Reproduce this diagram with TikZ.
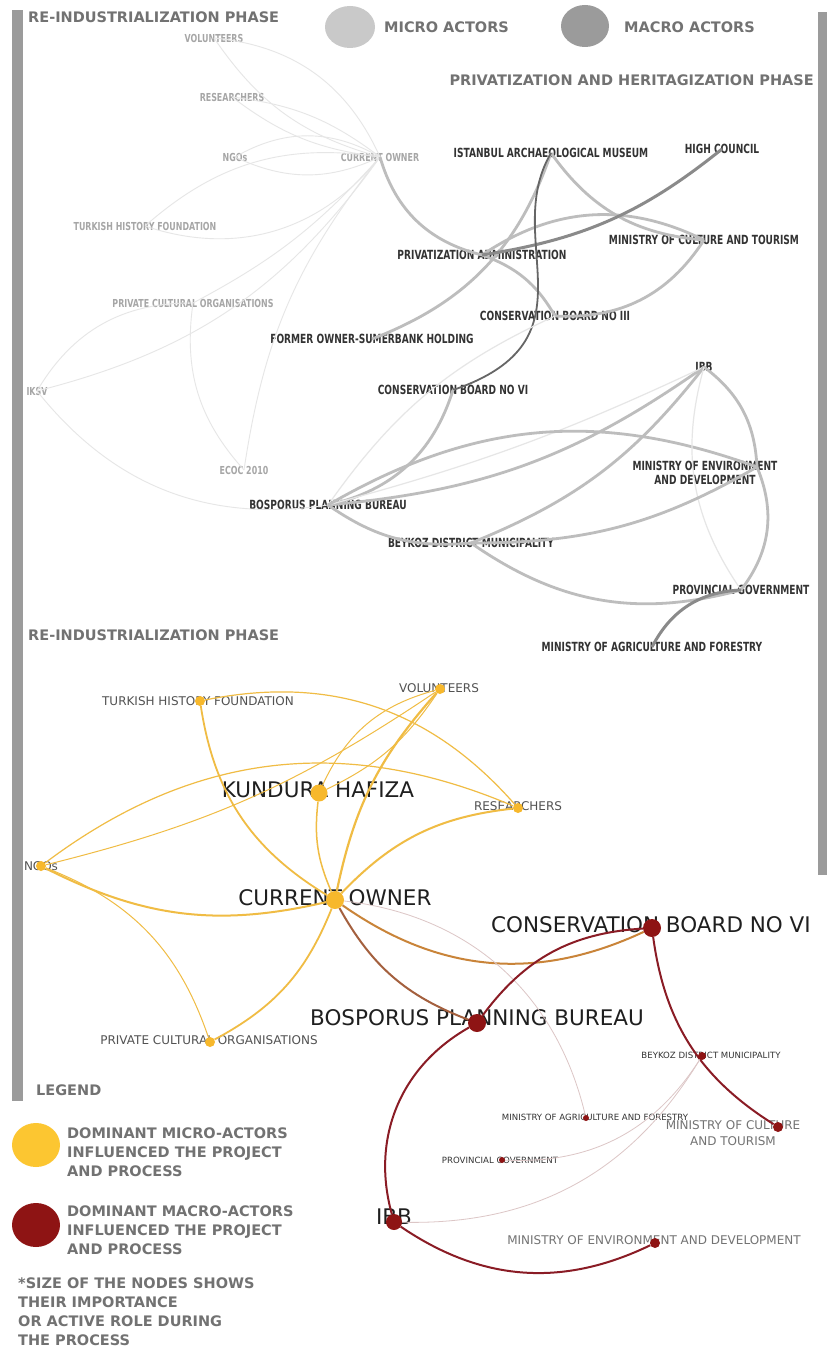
\documentclass[tikz,border=0pt]{standalone}
\usepackage{fontspec}
\setmainfont{DejaVu Sans}
\newfontfamily\narrowfont[FakeStretch=0.72]{DejaVu Sans}

\pgfdeclarelayer{edges}
\pgfdeclarelayer{dots}
\pgfsetlayers{main,edges,dots}

\definecolor{bargray}{HTML}{9B9B9B}
\definecolor{headgray}{HTML}{727272}
\definecolor{microgray}{HTML}{A6A6A6}
\definecolor{macrogray}{HTML}{333333}
\definecolor{microline}{HTML}{E6E6E6}
\definecolor{macroline}{HTML}{BDBDBD}
\definecolor{darkline}{HTML}{8A8A8A}
\definecolor{microfill}{HTML}{C9C9C9}
\definecolor{macrofill}{HTML}{9B9B9B}
\definecolor{actyellow}{HTML}{F7B82C}
\definecolor{legyellow}{HTML}{FCC631}
\definecolor{lineyellow}{HTML}{F0BC44}
\definecolor{lineorange}{HTML}{C98439}
\definecolor{linebrown}{HTML}{A4603E}
\definecolor{actred}{HTML}{8E1414}
\definecolor{linered}{HTML}{8A1C25}
\definecolor{linepink}{HTML}{DCC6C6}

\tikzset{
  head/.style={font=\fontsize{14.5}{19}\selectfont\bfseries, text=headgray, inner sep=0},
  miclbl/.style={font=\narrowfont\fontsize{11}{13}\selectfont\bfseries, text=microgray, inner sep=0},
  maclbl/.style={font=\narrowfont\fontsize{12.6}{13.5}\selectfont\bfseries, text=macrogray, inner sep=0},
  biglbl/.style={font=\fontsize{21.5}{24}\selectfont, text=black!88, inner sep=0},
  midlbl/.style={font=\fontsize{12}{16}\selectfont, text=black!68, inner sep=0},
  tinylbl/.style={font=\fontsize{8.6}{10}\selectfont, text=black!80, inner sep=0},
  mic/.style={microline, line width=0.9pt},
  mac/.style={macroline, line width=2.8pt},
  macthin/.style={microline, line width=1.2pt},
  macdark/.style={darkline, line width=3pt},
  macdeep/.style={black!60, line width=1.8pt},
  ydot/.style={circle, fill=actyellow, inner sep=0, minimum size=#1},
  rdot/.style={circle, fill=actred, inner sep=0, minimum size=#1},
  yedge/.style={lineyellow, line width=#1},
  yedge/.default=1.2pt,
  oedge/.style={lineorange, line width=2pt},
  bedge/.style={linebrown, line width=2pt},
  redge/.style={linered, line width=2pt},
  pedge/.style={linepink, line width=0.8pt}
}

\begin{document}
\begin{tikzpicture}[x=1pt,y=-1pt]
\useasboundingbox (0,0) rectangle (827,1348);
\fill[white] (0,0) rectangle (827,1348);

% side bars and headers
\fill[bargray] (12,10) rectangle (23,1101);
\fill[bargray] (818,12) rectangle (827,875);
\node[head, anchor=west] (phase1) at (28,17) {RE-INDUSTRIALIZATION PHASE};
\fill[microfill] (350,27) ellipse (25 and 21);
\node[head, anchor=west] (microkey) at (384,27) {MICRO ACTORS};
\fill[macrofill] (585,26) ellipse (24 and 21);
\node[head, anchor=west] (macrokey) at (624,27) {MACRO ACTORS};
\node[head, anchor=east] (phase2) at (814,80) {PRIVATIZATION AND HERITAGIZATION PHASE};
\node[head, anchor=west] (phase3) at (28,635) {RE-INDUSTRIALIZATION PHASE};

% upper network
\node[miclbl] (tvol) at (214,38) {VOLUNTEERS};
\node[miclbl] (tres) at (232,97) {RESEARCHERS};
\node[miclbl] (tngo) at (235,157) {NGOs};
\node[miclbl] (tco) at (380,157) {CURRENT OWNER};
\node[miclbl] (tthf) at (145,226) {TURKISH HISTORY FOUNDATION};
\node[miclbl] (tpco) at (193,303) {PRIVATE CULTURAL ORGANISATIONS};
\node[miclbl] (tiksv) at (37,391) {IKSV};
\node[miclbl] (tecoc) at (244,470) {ECOC 2010};

\node[maclbl] (tiam) at (551,153) {ISTANBUL ARCHAEOLOGICAL MUSEUM};
\node[maclbl] (thc) at (722,149) {HIGH COUNCIL};
\node[maclbl] (tmct) at (704,240) {MINISTRY OF CULTURE AND TOURISM};
\node[maclbl] (tpa) at (482,255) {PRIVATIZATION ADMINISTRATION};
\node[maclbl] (tcb3) at (555,316) {CONSERVATION BOARD NO III};
\node[maclbl] (tfo) at (372,339) {FORMER OWNER-SUMERBANK HOLDING};
\node[maclbl] (tcb6) at (453,390) {CONSERVATION BOARD NO VI};
\node[maclbl] (tibb) at (704,367) {IBB};
\node[maclbl, align=center] (tmedt) at (705,473) {MINISTRY OF ENVIRONMENT\\AND DEVELOPMENT};
\coordinate (tmed) at (757,467);
\node[maclbl] (tbpb) at (328,505) {BOSPORUS PLANNING BUREAU};
\node[maclbl] (tbdm) at (471,543) {BEYKOZ DISTRICT MUNICIPALITY};
\node[maclbl] (tpg) at (741,590) {PROVINCIAL GOVERNMENT};
\node[maclbl] (tmaf) at (652,647) {MINISTRY OF AGRICULTURE AND FORESTRY};

\begin{pgfonlayer}{edges}
\draw[mic] (tvol.center) to[bend left=30] (tco.center);
\draw[mic] (tvol.center) to[bend right=20] (tco.center);
\draw[mic] (tres.center) to[bend left=15] (tco.center);
\draw[mic] (tres.center) to[bend right=15] (tco.center);
\draw[mic] (tngo.center) to[bend left=30] (tco.center);
\draw[mic] (tngo.center) to[bend right=25] (tco.center);
\draw[mic] (tthf.center) to[bend left=25] (tco.center);
\draw[mic] (tthf.center) to[bend right=35] (tco.center);
\draw[mic] (tpco.center) to[bend right=10] (tco.center);
\draw[mic] (tiksv.center) to[bend right=20] (tco.center);
\draw[mic] (tiksv.center) to[bend left=30] (tpco.center);
\draw[mic] (tiksv.center) to[bend right=30] (tbpb.center);
\draw[mic] (tecoc.center) to[bend left=25] (tpco.center);
\draw[mic] (tecoc.center) to[bend left=15] (tco.center);

\draw[mac] (tco.center) to[bend right=30] (tpa.center);
\draw[mac] (tiam.center) to[bend left=25] (tfo.center);
\draw[mac] (tiam.center) to[bend right=25] (tmct.center);
\draw[mac] (tpa.center) to[bend left=30] (tmct.center);
\draw[mac] (tmct.center) to[bend left=30] (tcb3.center);
\draw[mac] (tpa.center) to[bend left=20] (tcb3.center);
\draw[macdark] (thc.center) to[bend left=15] (tpa.center);
\draw[macdeep] (tiam.center) .. controls (500,240) and (600,340) .. (tcb6.center);
\draw[macthin] (tcb3.center) to[bend right=15] (tbpb.center);
\draw[mac] (tcb6.center) to[bend left=30] (tbpb.center);
\draw[mac] (tbpb.center) to[bend right=15] (tibb.center);
\draw[macthin] (tbpb.center) to[bend right=5] (tibb.center);
\draw[mac] (tbpb.center) to[bend left=25] (tmed);
\draw[mac] (tbpb.center) to[bend right=20] (tbdm.center);
\draw[mac] (tibb.center) to[bend left=15] (tbdm.center);
\draw[mac] (tibb.center) to[bend left=25] (tmed);
\draw[macthin] (tibb.center) to[bend right=25] (tpg.center);
\draw[mac] (tmed) to[bend left=30] (tpg.center);
\draw[mac] (tbdm.center) to[bend right=25] (tpg.center);
\draw[mac] (tbdm.center) to[bend right=15] (tmed);
\draw[macdark] (tpg.center) to[bend right=30] (tmaf.center);
\end{pgfonlayer}

% lower network
\node[midlbl] (bthf-t) at (198,701) {TURKISH HISTORY FOUNDATION};
\node[midlbl] (bvol-t) at (439,688) {VOLUNTEERS};
\node[biglbl] (bkh-t) at (318,790) {KUNDURA HAFIZA};
\node[midlbl] (bres-t) at (518,806) {RESEARCHERS};
\node[midlbl] (bngo-t) at (41,866) {NGOs};
\node[biglbl] (bco-t) at (335,898) {CURRENT OWNER};
\node[biglbl] (bcb6-t) at (651,925) {CONSERVATION BOARD NO VI};
\node[biglbl] (bbpb-t) at (477,1018) {BOSPORUS PLANNING BUREAU};
\node[midlbl] (bpco-t) at (209,1040) {PRIVATE CULTURAL ORGANISATIONS};
\node[tinylbl] (bbdm-t) at (711,1055) {BEYKOZ DISTRICT MUNICIPALITY};
\node[tinylbl] (bmaf-t) at (595,1117) {MINISTRY OF AGRICULTURE AND FORESTRY};
\node[midlbl, text=black!55, align=center] (bmct-t) at (733,1133) {MINISTRY OF CULTURE\\AND TOURISM};
\node[tinylbl] (bpg-t) at (500,1160) {PROVINCIAL GOVERNMENT};
\node[biglbl] (bibb-t) at (394,1217) {IBB};
\node[midlbl, text=black!55] (bmed-t) at (654,1240) {MINISTRY OF ENVIRONMENT AND DEVELOPMENT};

\begin{pgfonlayer}{dots}
\node[ydot=10pt] (bthf) at (200,701) {};
\node[ydot=10pt] (bvol) at (440,689) {};
\node[ydot=17pt] (bkh) at (319,793) {};
\node[ydot=10pt] (bres) at (518,808) {};
\node[ydot=10pt] (bngo) at (41,866) {};
\node[ydot=18pt] (bco) at (335,900) {};
\node[ydot=10pt] (bpco) at (210,1042) {};
\node[rdot=18pt] (bcb6) at (652,928) {};
\node[rdot=18pt] (bbpb) at (477,1023) {};
\node[rdot=8pt] (bbdm) at (702,1056) {};
\node[rdot=6pt] (bmaf) at (586,1118) {};
\node[rdot=10pt] (bmct) at (778,1127) {};
\node[rdot=6pt] (bpg) at (502,1160) {};
\node[rdot=16pt] (bibb) at (394,1222) {};
\node[rdot=10pt] (bmed) at (655,1243) {};
\end{pgfonlayer}

\begin{pgfonlayer}{edges}
\draw[yedge=1.8pt] (bthf) to[bend right=25] (bco);
\draw[yedge] (bthf) to[bend left=30] (bres);
\draw[yedge=2.2pt] (bvol) to[bend right=15] (bco);
\draw[yedge=1pt] (bkh) to[bend left=25] (bvol);
\draw[yedge=1pt] (bvol) to[bend left=15] (bkh);
\draw[yedge=1pt] (bvol) to[bend left=10] (bngo);
\draw[yedge] (bngo) to[bend left=30] (bres);
\draw[yedge=2pt] (bco) to[bend left=20] (bngo);
\draw[yedge=1pt] (bngo) to[bend left=25] (bpco);
\draw[yedge=1.5pt] (bkh) to[bend right=15] (bco);
\draw[yedge=2pt] (bres) to[bend right=20] (bco);
\draw[yedge=1.8pt] (bco) to[bend left=20] (bpco);
\draw[oedge] (bco) to[bend right=30] (bcb6);
\draw[bedge] (bco) to[bend right=20] (bbpb);
\draw[pedge] (bco) to[bend left=35] (bmaf);
\draw[redge] (bbpb) to[bend left=25] (bcb6);
\draw[redge] (bbpb) to[bend right=38] (bibb);
\draw[redge] (bcb6) to[bend right=25] (bmct);
\draw[redge] (bibb) to[bend right=30] (bmed);
\draw[pedge] (bibb) to[bend right=30] (bbdm);
\draw[pedge] (bpg) to[bend right=30] (bbdm);
\end{pgfonlayer}

% legend
\node[head, anchor=west] (legend) at (36,1090) {LEGEND};
\fill[legyellow] (36,1145) ellipse (24 and 22);
\node[head, anchor=north west, align=left] (microtxt) at (67,1128) {DOMINANT MICRO-ACTORS\\INFLUENCED THE PROJECT\\AND PROCESS};
\fill[actred] (36,1225) ellipse (24 and 22);
\node[head, anchor=north west, align=left] (macrotxt) at (67,1206) {DOMINANT MACRO-ACTORS\\INFLUENCED THE PROJECT\\AND PROCESS};
\node[head, anchor=north west, align=left] (sizenote) at (18,1278) {*SIZE OF THE NODES SHOWS\\THEIR IMPORTANCE\\OR ACTIVE ROLE DURING\\THE PROCESS};
\end{tikzpicture}
\end{document}
